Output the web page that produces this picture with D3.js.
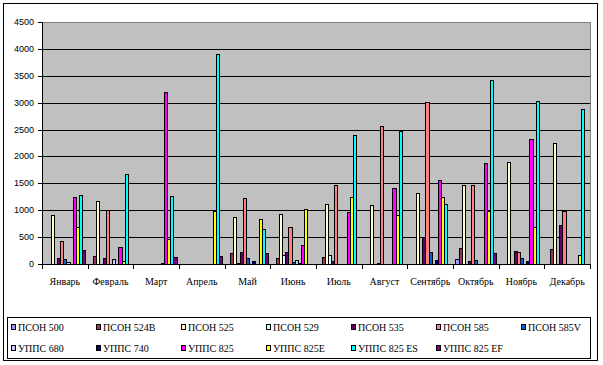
<!DOCTYPE html>
<html>
<head>
<meta charset="utf-8">
<script src="https://cdn.jsdelivr.net/npm/d3@7"></script>
<style>
  body { margin: 0; background: #fff; }
  svg { display: block; }
</style>
</head>
<body>
<div id="chart"></div>
<script>
// categories
var months = ["Январь", "Февраль", "Март", "Апрель", "Май", "Июнь", "Июль", "Август", "Сентябрь", "Октябрь", "Ноябрь", "Декабрь"];
var seriesNames = ["ПСОН 500", "ПСОН 524B", "ПСОН 525", "ПСОН 529", "ПСОН 535", "ПСОН 585", "ПСОН 585V",
                   "УППС 680", "УППС 740", "УППС 825", "УППС 825E", "УППС 825 ES", "УППС 825 EF"];
var seriesColors = ["#9999FF", "#993366", "#FFFFCC", "#CCFFFF", "#660066", "#FF8080", "#0066CC",
                    "#CCCCFF", "#000080", "#FF00FF", "#FFFF00", "#00FFFF", "#800080"];
var yTicks = [0, 500, 1000, 1500, 2000, 2500, 3000, 3500, 4000, 4500];

// series values, one per month
var pson500  = [0, 0, 0, 0, 0, 0, 0, 0, 0, 87, 0, 0];
var pson524B = [0, 142, 0, 0, 204, 111, 130, 0, 0, 296, 0, 278];
var pson525  = [907, 1167, 0, 0, 883, 926, 1111, 1093, 1327, 1463, 1901, 2253];
var pson529  = [0, 0, 0, 0, 25, 161, 161, 0, 0, 0, 0, 0];
var pson535  = [117, 117, 0, 0, 222, 222, 56, 20, 500, 56, 241, 722];
var pson585  = [426, 1013, 0, 0, 1222, 679, 1463, 2574, 3019, 1463, 222, 988];
var pson585V = [93, 0, 0, 0, 110, 28, 0, 0, 222, 70, 115, 0];
var upps680  = [37, 93, 0, 0, 0, 74, 0, 0, 0, 0, 0, 0];
var upps740  = [0, 0, 20, 0, 56, 15, 0, 0, 74, 0, 56, 0];
var upps825  = [1241, 315, 3204, 0, 0, 345, 963, 1420, 1568, 1883, 2333, 0];
var upps825E = [679, 50, 469, 988, 830, 1015, 1241, 907, 1241, 988, 679, 161];
var upps825ES = [1278, 1673, 1259, 3902, 645, 0, 2407, 2469, 1111, 3426, 3037, 2883];
var upps825EF = [259, 0, 136, 148, 204, 0, 0, 0, 0, 204, 0, 0];

var seriesValues = [pson500, pson524B, pson525, pson529, pson535, pson585, pson585V,
                    upps680, upps740, upps825, upps825E, upps825ES, upps825EF];

var W = 603, H = 365;
var plot = { left: 42, top: 22, right: 590, bottom: 264 };

var svg = d3.select("#chart").append("svg")
    .attr("width", W)
    .attr("height", H);

svg.append("rect")
    .attr("x", 0).attr("y", 0).attr("width", W).attr("height", H)
    .attr("fill", "#fff");

// outer chart frame
svg.append("rect")
    .attr("x", 3.5).attr("y", 3.5)
    .attr("width", 594).attr("height", 357)
    .attr("fill", "none")
    .attr("stroke", "#000");

var x = d3.scaleBand()
    .domain(months)
    .range([plot.left, plot.right]);

var xInner = d3.scaleBand()
    .domain(seriesNames)
    .range([0, x.bandwidth()])
    .paddingInner(0)
    .paddingOuter(0.75);

var y = d3.scaleLinear()
    .domain([0, 4500])
    .range([plot.bottom, plot.top]);

// plot background
svg.append("rect")
    .attr("x", plot.left + 0.5).attr("y", plot.top + 0.5)
    .attr("width", plot.right - plot.left).attr("height", plot.bottom - plot.top)
    .attr("fill", "#C0C0C0")
    .attr("stroke", "#808080");

// gridlines
svg.append("g")
    .selectAll("line")
    .data(yTicks.filter(function (d) { return d > 0 && d < 4500; }))
    .join("line")
    .attr("x1", plot.left)
    .attr("x2", plot.right)
    .attr("y1", function (d) { return Math.round(y(d)) + 0.5; })
    .attr("y2", function (d) { return Math.round(y(d)) + 0.5; })
    .attr("stroke", "#000");

// bars
var bars = [];
seriesValues.forEach(function (vals, si) {
    vals.forEach(function (v, mi) {
        if (v > 0) bars.push({ s: si, m: mi, v: v });
    });
});

svg.append("g")
    .selectAll("rect")
    .data(bars)
    .join("rect")
    .attr("x", function (d) { return Math.round(x(months[d.m]) + xInner(seriesNames[d.s])) + 0.5; })
    .attr("width", function (d) {
        var x0 = x(months[d.m]) + xInner(seriesNames[d.s]);
        return Math.max(1, Math.round(x0 + xInner.bandwidth()) - Math.round(x0));
    })
    .attr("y", function (d) { return Math.round(y(d.v)) + 0.5; })
    .attr("height", function (d) { return Math.max(0, Math.round(y(0)) - Math.round(y(d.v))); })
    .attr("fill", function (d) { return seriesColors[d.s]; })
    .attr("stroke", "#000")
    .attr("stroke-width", 1);

// y axis
var yAxis = svg.append("g");
yAxis.append("line")
    .attr("x1", plot.left + 0.5).attr("x2", plot.left + 0.5)
    .attr("y1", plot.top).attr("y2", plot.bottom + 1)
    .attr("stroke", "#000");
yAxis.selectAll(".tick")
    .data(yTicks)
    .join("line")
    .attr("x1", plot.left - 4).attr("x2", plot.left)
    .attr("y1", function (d) { return Math.round(y(d)) + 0.5; })
    .attr("y2", function (d) { return Math.round(y(d)) + 0.5; })
    .attr("stroke", "#000");
yAxis.selectAll("text")
    .data(yTicks)
    .join("text")
    .attr("x", 34)
    .attr("y", function (d) { return y(d) + 3; })
    .attr("text-anchor", "end")
    .attr("font-family", "'Liberation Sans', Arial, sans-serif")
    .attr("font-size", "9px")
    .attr("fill", "#000")
    .text(function (d) { return d; });

// x axis
var xAxis = svg.append("g");
xAxis.append("line")
    .attr("x1", plot.left).attr("x2", plot.right + 1)
    .attr("y1", plot.bottom + 0.5).attr("y2", plot.bottom + 0.5)
    .attr("stroke", "#000");
xAxis.selectAll(".tick")
    .data(months.map(function (m) { return x(m); }).concat([plot.right]))
    .join("line")
    .attr("x1", function (d) { return Math.round(d) + 0.5; })
    .attr("x2", function (d) { return Math.round(d) + 0.5; })
    .attr("y1", plot.bottom)
    .attr("y2", plot.bottom + 5)
    .attr("stroke", "#000");
xAxis.selectAll("text")
    .data(months)
    .join("text")
    .attr("x", function (d) { return x(d) + x.bandwidth() / 2; })
    .attr("y", 284.5)
    .attr("text-anchor", "middle")
    .attr("font-family", "'Liberation Serif', 'Times New Roman', serif")
    .attr("font-size", "10px")
    .attr("fill", "#000")
    .text(function (d) { return d; });

// legend
var legend = svg.append("g");
legend.append("rect")
    .attr("x", 7.5).attr("y", 317.5)
    .attr("width", 583).attr("height", 41)
    .attr("fill", "#fff")
    .attr("stroke", "#000");

var item = legend.selectAll("g.item")
    .data(seriesNames)
    .join("g")
    .attr("class", "item")
    .attr("transform", function (d, i) {
        var col = i % 7, row = Math.floor(i / 7);
        return "translate(" + (11 + col * 85) + "," + (327 + row * 21) + ")";
    });

item.append("rect")
    .attr("x", 0.5).attr("y", -2.5)
    .attr("width", 4).attr("height", 5)
    .attr("fill", function (d, i) { return seriesColors[i]; })
    .attr("stroke", "#000");

item.append("text")
    .attr("x", 7)
    .attr("y", 3.5)
    .attr("font-family", "'Liberation Serif', 'Times New Roman', serif")
    .attr("font-size", "10px")
    .attr("fill", "#000")
    .text(function (d) { return d; });
</script>
</body>
</html>
